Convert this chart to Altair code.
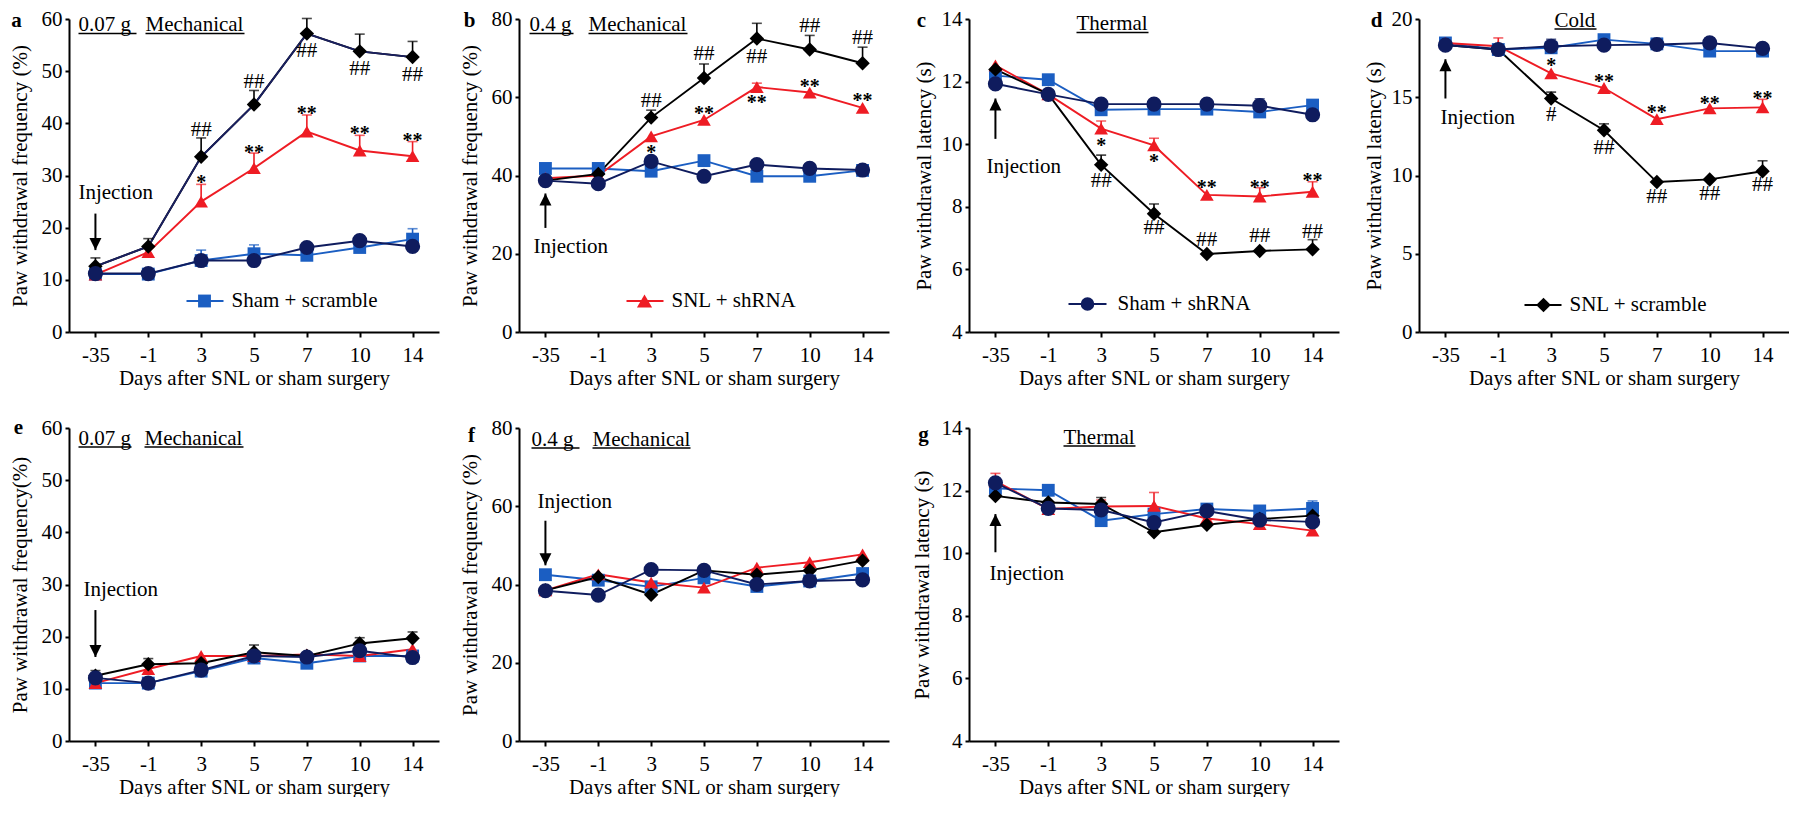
import altair as alt
import pandas as pd

FONT = "Liberation Serif"

days = ["-35", "-1", "3", "5", "7", "10", "14"]
series_names = ["Sham + scramble", "SNL + shRNA", "SNL + scramble", "Sham + shRNA"]
series_colors = ["#1b5ec2", "#ee1c24", "#000000", "#0f1c5e"]
series_shapes = ["square", "triangle-up", "diamond", "circle"]
series_sizes = [165, 230, 215, 185]

# ---------------- panel a (0.07 g mechanical) ----------------
a_yticks = [0, 10, 20, 30, 40, 50, 60]
a_sham_scramble = [11.1, 11.1, 13.7, 15.0, 14.7, 16.2, 17.8]
a_snl_shrna = [11.0, 15.3, 25.0, 31.4, 38.4, 34.8, 33.7]
a_snl_scramble = [12.6, 16.4, 33.6, 43.6, 57.2, 53.8, 52.7]
a_sham_shrna = [11.2, 11.2, 13.7, 13.7, 16.2, 17.5, 16.4]
a_sham_scramble_err = [None, None, 15.7, 16.7, None, None, 19.8]
a_snl_shrna_err = [None, 16.2, 28.3, 34.3, 41.6, 37.7, 36.5]
a_snl_scramble_err = [14.2, 17.9, 37.2, 46.3, 60.1, 57.1, 55.7]
a_sham_shrna_err = [None, None, None, None, None, None, None]
a_stars = [("*", "3", 29.6), ("**", "5", 35.3), ("**", "7", 42.8), ("**", "10", 39.0), ("**", "14", 37.5)]
a_hashes = [("##", "3", 38.7), ("##", "5", 47.9), ("##", "7", 53.8), ("##", "10", 50.4), ("##", "14", 49.2)]
a_injection = (26.6, 22.7, 15.7)

# ---------------- panel b (0.4 g mechanical) ----------------
b_yticks = [0, 20, 40, 60, 80]
b_sham_scramble = [41.8, 41.8, 41.1, 43.8, 39.8, 39.8, 41.3]
b_snl_shrna = [39.3, 40.0, 50.0, 54.2, 62.6, 61.2, 57.3]
b_snl_scramble = [38.7, 40.4, 54.8, 64.9, 75.0, 72.2, 68.7]
b_sham_shrna = [38.7, 37.9, 43.6, 39.8, 42.8, 41.8, 41.4]
b_sham_scramble_err = [None, None, None, None, None, None, None]
b_snl_shrna_err = [None, None, None, None, 63.6, None, None]
b_snl_scramble_err = [None, None, 56.7, 68.5, 78.9, 75.8, 72.8]
b_sham_shrna_err = [None, None, None, None, None, None, None]
b_stars = [("*", "3", 47.1), ("**", "5", 56.9), ("**", "7", 59.7), ("**", "10", 63.8), ("**", "14", 60.3)]
b_hashes = [("##", "3", 59.0), ("##", "5", 71.0), ("##", "7", 70.3), ("##", "10", 78.2), ("##", "14", 75.1)]
b_injection = (21.6, 26.6, 35.4)

# ---------------- panel c (thermal) ----------------
c_yticks = [4, 6, 8, 10, 12, 14]
c_sham_scramble = [12.19, 12.06, 11.10, 11.12, 11.12, 11.03, 11.25]
c_snl_shrna = [12.52, 11.59, 10.50, 9.96, 8.38, 8.33, 8.48]
c_snl_scramble = [12.39, 11.60, 9.34, 7.78, 6.49, 6.59, 6.64]
c_sham_shrna = [11.93, 11.59, 11.28, 11.28, 11.28, 11.23, 10.94]
c_sham_scramble_err = [None, None, None, None, None, None, None]
c_snl_shrna_err = [None, None, 10.74, 10.19, None, 8.61, 8.80]
c_snl_scramble_err = [None, None, 9.65, 8.09, None, None, 6.95]
c_sham_shrna_err = [None, None, None, None, 11.40, 11.45, None]
c_stars = [("*", "3", 10.11), ("*", "5", 9.6), ("**", "7", 8.77), ("**", "10", 8.77), ("**", "14", 8.97)]
c_hashes = [("##", "3", 8.82), ("##", "5", 7.32), ("##", "7", 6.95), ("##", "10", 7.06), ("##", "14", 7.21)]
c_injection = (9.28, 10.17, 11.46)

# ---------------- panel d (cold) ----------------
d_yticks = [0, 5, 10, 15, 20]
d_sham_scramble = [18.47, 18.05, 18.16, 18.68, 18.41, 17.95, 17.95]
d_snl_shrna = [18.47, 18.26, 16.53, 15.59, 13.60, 14.29, 14.35]
d_snl_scramble = [18.33, 18.05, 14.92, 12.89, 9.58, 9.75, 10.27]
d_sham_shrna = [18.33, 18.05, 18.26, 18.33, 18.37, 18.47, 18.12]
d_sham_scramble_err = [None, None, None, None, None, None, None]
d_snl_shrna_err = [None, 18.79, None, None, None, None, 14.87]
d_snl_scramble_err = [None, None, 15.33, 13.30, None, None, 10.94]
d_sham_shrna_err = [None, None, 18.70, None, None, 18.80, 18.40]
d_stars = [("*", "3", 17.32), ("**", "5", 16.3), ("**", "7", 14.29), ("**", "10", 14.92), ("**", "14", 15.19)]
d_hashes = [("#", "3", 13.87), ("##", "5", 11.78), ("##", "7", 8.64), ("##", "10", 8.79), ("##", "14", 9.41)]
d_injection = (13.66, 14.92, 17.43)

# ---------------- panel e (0.07 g mechanical, control) ----------------
e_yticks = [0, 10, 20, 30, 40, 50, 60]
e_sham_scramble = [11.1, 11.1, 13.4, 15.9, 14.9, 16.3, 16.3]
e_snl_shrna = [11.1, 13.8, 16.3, 16.3, 16.6, 16.3, 17.6]
e_snl_scramble = [12.5, 14.7, 14.9, 17.0, 16.3, 18.7, 19.7]
e_sham_shrna = [12.1, 11.1, 13.6, 16.3, 16.1, 17.3, 16.0]
e_sham_scramble_err = [None, None, None, None, None, None, None]
e_snl_shrna_err = [None, None, None, None, None, None, None]
e_snl_scramble_err = [13.5, 15.8, None, 18.4, None, 19.8, 20.9]
e_sham_shrna_err = [None, None, None, None, None, None, None]
e_injection = (29.0, 25.1, 16.1)

# ---------------- panel f (0.4 g mechanical, control) ----------------
f_yticks = [0, 20, 40, 60, 80]
f_sham_scramble = [42.5, 41.1, 39.4, 41.7, 39.5, 40.9, 42.8]
f_snl_shrna = [38.5, 42.6, 40.5, 39.2, 44.3, 45.7, 47.7]
f_snl_scramble = [38.5, 41.9, 37.4, 43.6, 42.5, 43.6, 46.1]
f_sham_shrna = [38.4, 37.3, 43.8, 43.6, 40.0, 40.9, 41.2]
f_none_err = [None, None, None, None, None, None, None]
f_injection = (61.2, 56.3, 44.9)

# ---------------- panel g (thermal, control) ----------------
g_yticks = [4, 6, 8, 10, 12, 14]
g_sham_scramble = [12.07, 12.01, 11.04, 11.25, 11.41, 11.35, 11.43]
g_snl_shrna = [12.30, 11.41, 11.49, 11.51, 11.11, 10.93, 10.72]
g_snl_scramble = [11.83, 11.62, 11.57, 10.67, 10.91, 11.09, 11.20]
g_sham_shrna = [12.25, 11.43, 11.38, 10.98, 11.35, 11.06, 11.00]
g_sham_scramble_err = [None, None, None, None, 11.50, 11.40, 11.67]
g_snl_shrna_err = [12.55, None, 11.70, 11.94, None, None, None]
g_snl_scramble_err = [None, None, 11.78, None, None, None, None]
g_sham_shrna_err = [None, None, None, None, None, None, None]
g_injection = (9.34, 10.03, 11.25)

FREQ = "Paw withdrawal frequency (%)"
LAT = "Paw withdrawal latency (s)"

panels = {
    "a": dict(letter="a", letter_pos=(-52.5, 1.5), ytitle=FREQ, ytitle_x=-49, yticks=a_yticks,
              values=[a_sham_scramble, a_snl_shrna, a_snl_scramble, a_sham_shrna],
              errors=[a_sham_scramble_err, a_snl_shrna_err, a_snl_scramble_err, a_sham_shrna_err],
              stars=a_stars, hashes=a_hashes, injection=a_injection, inj_dx=-17,
              legend=(0, 117.5, 154.5, 135.5, 282, 162.5), diamond_line="#1a2060",
              titles=[("0.07 g", 9.5, 12, 58), ("Mechanical", 76.5, 12, 99)]),
    "b": dict(letter="b", letter_pos=(-49.5, 1.5), ytitle=FREQ, ytitle_x=-48.5, yticks=b_yticks,
              values=[b_sham_scramble, b_snl_shrna, b_snl_scramble, b_sham_shrna],
              errors=[b_sham_scramble_err, b_snl_shrna_err, b_snl_scramble_err, b_sham_shrna_err],
              stars=b_stars, hashes=b_hashes, injection=b_injection, inj_dx=-12,
              legend=(1, 107.5, 144.5, 125.5, 282, 152.5),
              titles=[("0.4 g", 10.5, 12, 44), ("Mechanical", 69.5, 12, 99)]),
    "c": dict(letter="c", letter_pos=(-47.5, 1.5), ytitle=LAT, ytitle_x=-44.5, yticks=c_yticks,
              values=[c_sham_scramble, c_snl_shrna, c_snl_scramble, c_sham_shrna],
              errors=[c_sham_scramble_err, c_snl_shrna_err, c_snl_scramble_err, c_sham_shrna_err],
              stars=c_stars, hashes=c_hashes, injection=c_injection, inj_dx=-9,
              legend=(3, 99.5, 137.5, 118.5, 285, 148.5),
              titles=[("Thermal", 107.5, 11, 72)]),
    "d": dict(letter="d", letter_pos=(-42.5, 1.5), ytitle=LAT, ytitle_x=-44.5, yticks=d_yticks,
              values=[d_sham_scramble, d_snl_shrna, d_snl_scramble, d_sham_shrna],
              errors=[d_sham_scramble_err, d_snl_shrna_err, d_snl_scramble_err, d_sham_shrna_err],
              stars=d_stars, hashes=d_hashes, injection=d_injection, inj_dx=-5,
              legend=(2, 105.5, 142.5, 124.5, 286, 150.5),
              titles=[("Cold", 135.5, 7.5, 42)]),
    "e": dict(letter="e", letter_pos=(-50.5, 0), ytitle="Paw withdrawal frequency(%)", ytitle_x=-49,
              yticks=e_yticks,
              values=[e_sham_scramble, e_snl_shrna, e_snl_scramble, e_sham_shrna],
              errors=[e_sham_scramble_err, e_snl_shrna_err, e_snl_scramble_err, e_sham_shrna_err],
              stars=[], hashes=[], injection=e_injection, inj_dx=-12, legend=None,
              titles=[("0.07 g", 9.5, 16.5, 53), ("Mechanical", 75.5, 16.5, 99)]),
    "f": dict(letter="f", letter_pos=(-47.5, 7.5), ytitle=FREQ, ytitle_x=-48.5, yticks=f_yticks,
              values=[f_sham_scramble, f_snl_shrna, f_snl_scramble, f_sham_shrna],
              errors=[f_none_err, f_none_err, f_none_err, f_none_err],
              stars=[], hashes=[], injection=f_injection, inj_dx=-8, legend=None,
              titles=[("0.4 g", 12.5, 17.5, 48), ("Mechanical", 73.5, 17.5, 98)]),
    "g": dict(letter="g", letter_pos=(-45.5, 6.5), ytitle=LAT, ytitle_x=-46.5, yticks=g_yticks,
              values=[g_sham_scramble, g_snl_shrna, g_snl_scramble, g_sham_shrna],
              errors=[g_sham_scramble_err, g_snl_shrna_err, g_snl_scramble_err, g_sham_shrna_err],
              stars=[], hashes=[], injection=g_injection, inj_dx=-6, legend=None,
              titles=[("Thermal", 94.5, 15.5, 72)]),
}

W, H = 370, 313
ARROW_DOWN = "M0,0L-0.6,-1.2L0.6,-1.2Z"
ARROW_UP = "M0,0L-0.6,1.2L0.6,1.2Z"


def build(p):
    rows = []
    for si, name in enumerate(series_names):
        for di, d in enumerate(days):
            rows.append({"series": name, "day": d,
                         "value": p["values"][si][di], "err": p["errors"][si][di]})
    df = pd.DataFrame(rows)
    df["err"] = pd.to_numeric(df["err"])
    df_err = df.dropna(subset=["err"])
    yt = p["yticks"]
    xs = alt.Scale(type="point", domain=days, padding=0.5)
    ys = alt.Scale(domain=[yt[0], yt[-1]], nice=False, zero=False)
    x_axis = alt.Axis(title="Days after SNL or sham surgery", labelAngle=0,
                      tickSize=5, labelPadding=7, titlePadding=2)
    y_axis = alt.Axis(values=yt, title=p["ytitle"], tickSize=4, labelPadding=3,
                      titleAngle=270, titleBaseline="middle",
                      titleX=p["ytitle_x"], titleY=H / 2)
    xe = alt.X("day:O", scale=xs, axis=x_axis)

    def yq(field):
        return alt.Y(field + ":Q", scale=ys, axis=y_axis)

    col = alt.Color("series:N", scale=alt.Scale(domain=series_names, range=series_colors), legend=None)
    shp = alt.Shape("series:N", scale=alt.Scale(domain=series_names, range=series_shapes), legend=None)
    siz = alt.Size("series:N", scale=alt.Scale(domain=series_names, range=series_sizes), legend=None)

    layers = [alt.Chart(df).mark_line(strokeWidth=1.9).encode(x=xe, y=yq("value"), color=col)]
    if p.get("diamond_line"):
        dl = df[df["series"] == "SNL + scramble"]
        layers.append(alt.Chart(dl).mark_line(strokeWidth=1.9, color=p["diamond_line"]).encode(
            x=xe, y=yq("value")))
    if len(df_err):
        layers.append(alt.Chart(df_err).mark_rule(strokeWidth=1.6).encode(
            x=xe, y=yq("value"), y2="err:Q", color=col))
        layers.append(alt.Chart(df_err).mark_tick(size=10, thickness=1.6).encode(
            x=xe, y=yq("err"), color=col))
    layers.append(alt.Chart(df).mark_point(filled=True, opacity=1).encode(
        x=xe, y=yq("value"), color=col, shape=shp, size=siz))

    if p["stars"]:
        st = pd.DataFrame(p["stars"], columns=["txt", "day", "y"])
        layers.append(alt.Chart(st).mark_text(font=FONT, fontSize=20, fontWeight="bold", dy=5,
                                              color="black").encode(x=xe, y=yq("y"), text="txt:N"))
    if p["hashes"]:
        hs = pd.DataFrame(p["hashes"], columns=["txt", "day", "y"])
        layers.append(alt.Chart(hs).mark_text(font=FONT, fontSize=21, color="black").encode(
            x=xe, y=yq("y"), text="txt:N"))

    ti, tail, head = p["injection"]
    inj = pd.DataFrame({"day": ["-35"], "ty": [ti], "tail": [tail], "head": [head], "lab": ["Injection"]})
    layers.append(alt.Chart(inj).mark_text(font=FONT, fontSize=21, align="left", baseline="middle",
                                           dx=p["inj_dx"], color="black").encode(
        x=xe, y=yq("ty"), text="lab:N"))
    layers.append(alt.Chart(inj).mark_rule(strokeWidth=2, color="black").encode(
        x=xe, y=yq("tail"), y2="head:Q"))
    layers.append(alt.Chart(inj).mark_point(shape=ARROW_DOWN if head < tail else ARROW_UP, size=400,
                                            filled=True, color="black", opacity=1).encode(
        x=xe, y=yq("head")))

    one = pd.DataFrame({"k": [0]})
    if p["legend"] is not None:
        si, x1, x2, mx, ly, tx = p["legend"]
        layers.append(alt.Chart(one).mark_rule(strokeWidth=1.9, color=series_colors[si]).encode(
            x=alt.value(x1), x2=alt.value(x2), y=alt.value(ly)))
        layers.append(alt.Chart(one).mark_point(shape=series_shapes[si], size=series_sizes[si],
                                                filled=True, color=series_colors[si], opacity=1).encode(
            x=alt.value(mx), y=alt.value(ly)))
        layers.append(alt.Chart(one).mark_text(font=FONT, fontSize=21, align="left", baseline="middle",
                                               color="black").encode(
            x=alt.value(tx), y=alt.value(ly), text=alt.value(series_names[si])))

    for (t, tx, by, ul) in p["titles"]:
        layers.append(alt.Chart(one).mark_text(font=FONT, fontSize=21, align="left",
                                               baseline="alphabetic", color="black").encode(
            x=alt.value(tx), y=alt.value(by), text=alt.value(t)))
        layers.append(alt.Chart(one).mark_rule(strokeWidth=1.4, color="black").encode(
            x=alt.value(tx), x2=alt.value(tx + ul), y=alt.value(by + 2.5)))

    lx, ly = p["letter_pos"]
    layers.append(alt.Chart(one).mark_text(font=FONT, fontSize=21, fontWeight="bold", align="center",
                                           baseline="middle", color="black").encode(
        x=alt.value(lx), y=alt.value(ly), text=alt.value(p["letter"])))
    return alt.layer(*layers).properties(width=W, height=H)


chart = alt.concat(
    *[build(panels[k]) for k in "abcdefg"],
    columns=4, spacing={"row": 96, "column": 80}, bounds="flush"
).properties(
    padding=0
).configure_view(
    stroke=None
).configure_axis(
    domainColor="black", domainWidth=2, tickColor="black", tickWidth=2,
    labelColor="black", titleColor="black", labelFont=FONT, titleFont=FONT,
    labelFontSize=21, titleFontSize=21, titleFontWeight="normal", grid=False
).configure_text(
    font=FONT
)

chart.save("out.html", embed_options={"renderer": "svg", "actions": False})
